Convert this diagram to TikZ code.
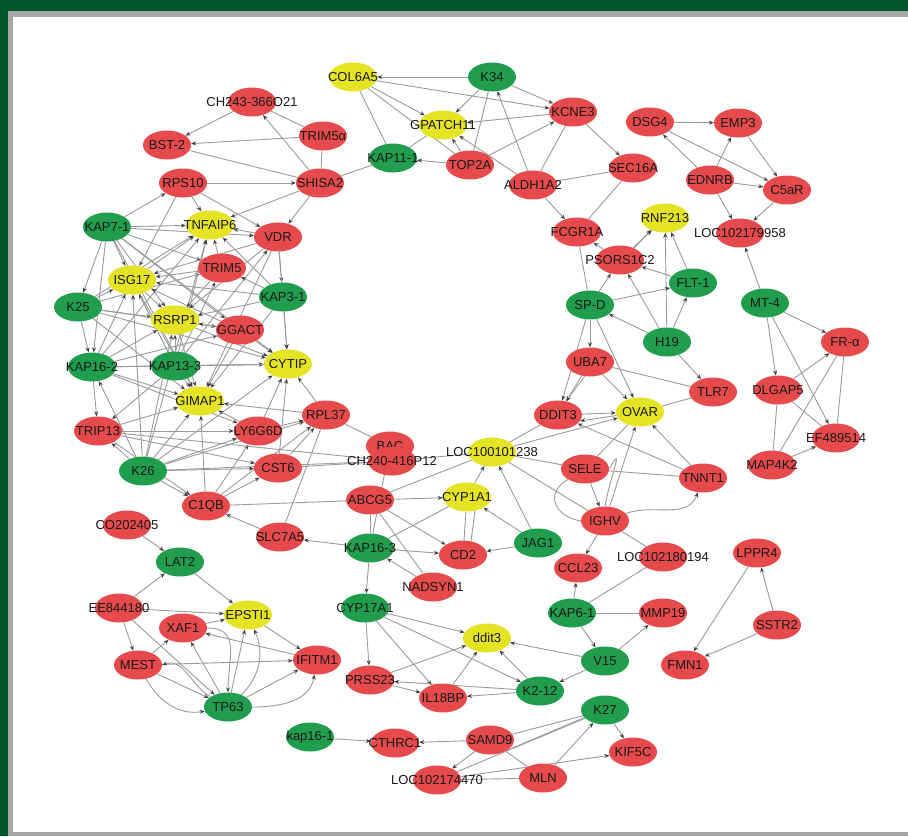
\documentclass[tikz,border=0pt]{standalone}
\usepackage{fontspec}
\setmainfont{Liberation Sans}
\usetikzlibrary{shapes.geometric,arrows.meta}
\definecolor{nred}{RGB}{231,74,76}
\definecolor{ngreen}{RGB}{32,158,78}
\definecolor{nyellow}{RGB}{228,228,36}
\definecolor{framegreen}{RGB}{0,88,40}
\definecolor{edgegray}{RGB}{155,155,155}
\definecolor{txt}{RGB}{25,25,25}
\pgfdeclarelayer{back}
\pgfdeclarelayer{edges}
\pgfsetlayers{back,edges,main}
\tikzset{
  base/.style={ellipse, minimum width=48, minimum height=29, inner sep=0,
    label={[font=\fontsize{13}{15}\selectfont, text=txt, inner sep=0]center:#1}},
  rn/.style={base=#1, fill=nred},
  gn/.style={base=#1, fill=ngreen},
  yn/.style={base=#1, fill=nyellow},
  ln/.style={draw=edgegray, line width=0.9pt},
  ar/.style={ln, -{Stealth[length=5pt,width=4pt,color=black!75]}},
}
\begin{document}
\begin{tikzpicture}[x=1pt,y=-1pt]
\useasboundingbox (0,0) rectangle (908,836);
\begin{pgfonlayer}{back}
\fill[framegreen] (0,0) rectangle (908,836);
\fill[black!35] (8,11) rectangle (908,836);
\fill[white] (13,17) rectangle (908,832);
\end{pgfonlayer}

% ---------------- nodes ----------------
\node[yn=COL6A5] (col6a5) at (353,77) {};
\node[gn=K34] (k34) at (492,77) {};
\node[rn=CH243-366O21] (ch243) at (252,102) {};
\node[rn=TRIM5α] (trim5a) at (323,136) {};
\node[rn=BST-2] (bst) at (167,145) {};
\node[rn=RPS10] (rps10) at (183,183) {};
\node[rn=SHISA2] (shisa2) at (320,183) {};
\node[yn=GPATCH11] (gpatch) at (443,125) {};
\node[gn=KAP11-1] (kap111) at (393,158) {};
\node[rn=TOP2A] (top2a) at (470,165) {};
\node[rn=ALDH1A2] (aldh) at (533,185) {};
\node[rn=KCNE3] (kcne3) at (573,112) {};
\node[rn=SEC16A] (sec16a) at (633,168) {};
\node[rn=FCGR1A] (fcgr) at (577,232) {};
\node[rn=DSG4] (dsg4) at (650,122) {};
\node[rn=EMP3] (emp3) at (738,123) {};
\node[rn=EDNRB] (ednrb) at (710,180) {};
\node[rn=C5aR] (c5ar) at (787,190) {};
\node[rn=LOC102179958] (loc958) at (740,233) {};
\node[yn=RNF213] (rnf) at (665,218) {};
\node[rn=PSORS1C2] (psors) at (620,260) {};
\node[gn=FLT-1] (flt) at (693,283) {};
\node[gn=SP-D] (spd) at (590,305) {};
\node[gn=H19] (h19) at (667,342) {};
\node[gn=MT-4] (mt4) at (765,303) {};
\node[rn=FR-α] (fra) at (845,342) {};
\node[rn=UBA7] (uba7) at (590,362) {};
\node[rn=TLR7] (tlr7) at (713,392) {};
\node[rn=DLGAP5] (dlgap) at (778,390) {};
\node[rn=DDIT3] (ddit3) at (558,415) {};
\node[yn=OVAR] (ovar) at (640,412) {};
\node[rn=EF489514] (ef) at (836,438) {};
\node[rn=MAP4K2] (map4k2) at (772,465) {};
\node[yn=LOC100101238] (loc238) at (492,452) {};
\node[rn=SELE] (sele) at (585,469) {};
\node[rn=TNNT1] (tnnt1) at (703,478) {};
\node[rn=IGHV] (ighv) at (605,521) {};
\node[rn=CCL23] (ccl23) at (578,568) {};
\node[rn=LOC102180194] (loc194) at (663,557) {};
\node[rn=LPPR4] (lppr4) at (757,553) {};
\node[rn=SSTR2] (sstr2) at (777,625) {};
\node[rn=FMN1] (fmn1) at (685,665) {};
\node[rn=MMP19] (mmp19) at (663,613) {};
\node[gn=KAP6-1] (kap61) at (572,613) {};
\node[gn=V15] (v15) at (605,661) {};
\node[gn=K27] (k27) at (605,710) {};
\node[rn=KIF5C] (kif5c) at (633,752) {};
\node[rn=MLN] (mln) at (543,778) {};
\node[rn=LOC102174470] (loc470) at (437,780) {};
\node[rn=SAMD9] (samd9) at (490,740) {};
\node[rn=CTHRC1] (cthrc1) at (395,743) {};
\node[gn=kap16-1] (kap161) at (310,737) {};
\node[gn=K2-12] (k212) at (540,691) {};
\node[rn=IL18BP] (il18bp) at (443,698) {};
\node[rn=PRSS23] (prss23) at (370,680) {};
\node[yn=ddit3] (ddit3s) at (487,638) {};
\node[gn=CYP17A1] (cyp17) at (365,608) {};
\node[rn=NADSYN1] (nadsyn) at (433,587) {};
\node[gn=KAP16-3] (kap163) at (370,548) {};
\node[rn=CD2] (cd2) at (463,555) {};
\node[gn=JAG1] (jag1) at (538,543) {};
\node[yn=CYP1A1] (cyp1a1) at (467,497) {};
\node[rn=ABCG5] (abcg5) at (370,500) {};
\node[rn=BAC] (bac) at (390,446) {};
\node[rn=CH240-416P12] (ch240) at (392,461) {};
\node[rn=SLC7A5] (slc7a5) at (280,537) {};
\node[rn=C1QB] (c1qb) at (206,506) {};
\node[rn=CO202405] (co2024) at (127,525) {};
\node[gn=LAT2] (lat2) at (180,562) {};
\node[rn=EE844180] (ee844) at (119,608) {};
\node[yn=EPSTI1] (epsti) at (248,615) {};
\node[rn=XAF1] (xaf1) at (183,628) {};
\node[rn=MEST] (mest) at (138,665) {};
\node[rn=IFITM1] (ifitm) at (317,660) {};
\node[gn=TP63] (tp63) at (228,707) {};
% left cluster
\node[gn=KAP7-1] (kap71) at (107,227) {};
\node[yn=TNFAIP6] (tnfaip) at (210,225) {};
\node[rn=VDR] (vdr) at (278,237) {};
\node[rn=TRIM5] (trim5) at (222,268) {};
\node[yn=ISG17] (isg17) at (132,280) {};
\node[gn=KAP3-1] (kap31) at (283,297) {};
\node[gn=K25] (k25) at (78,307) {};
\node[yn=RSRP1] (rsrp1) at (175,320) {};
\node[rn=GGACT] (ggact) at (240,330) {};
\node[gn=KAP16-2] (kap162) at (92,367) {};
\node[gn=KAP13-3] (kap133) at (175,366) {};
\node[yn=CYTIP] (cytip) at (288,364) {};
\node[yn=GIMAP1] (gimap) at (200,401) {};
\node[rn=TRIP13] (trip13) at (98,431) {};
\node[rn=LY6G6D] (ly6) at (258,431) {};
\node[rn=RPL37] (rpl37) at (326,415) {};
\node[rn=CST6] (cst6) at (278,468) {};
\node[gn=K26] (k26) at (143,471) {};

% ---------------- edges ----------------
\begin{pgfonlayer}{edges}
% top
\draw[ar] (k34) -- (col6a5);
\draw[ar] (col6a5) -- (gpatch);
\draw[ln] (col6a5) -- (kap111);
\draw[ln] (col6a5) -- (top2a);
\draw[ar] (col6a5) -- (kcne3);
\draw[ar] (k34) -- (gpatch);
\draw[ln] (k34) -- (top2a);
\draw[ar] (k34) -- (kcne3);
\draw[ar] (aldh) -- (k34);
\draw[ar] (kcne3) -- (gpatch);
\draw[ar] (top2a) -- (gpatch);
\draw[ar] (aldh) -- (gpatch);
\draw[ar] (top2a) -- (kap111);
\draw[ar] (top2a) -- (kcne3);
\draw[ln] (aldh) -- (kcne3);
\draw[ar] (kcne3) -- (sec16a);
\draw[ln] (aldh) -- (sec16a);
\draw[ar] (aldh) -- (fcgr);
\draw[ln] (sec16a) -- (fcgr);
\draw[ln] (kap111) -- (shisa2);
\draw[ln] (kap111) -- (gpatch);
\draw[ar] (shisa2) -- (ch243);
\draw[ar] (ch243) -- (bst);
\draw[ar] (trim5a) -- (bst);
\draw[ln] (trim5a) -- (shisa2);
\draw[ln] (ch243) -- (trim5a);
\draw[ln] (shisa2) -- (bst);
\draw[ar] (rps10) -- (shisa2);
\draw[ar] (shisa2) -- (tnfaip);
\draw[ar] (shisa2) -- (vdr);
\draw[ar] (kap71) -- (rps10);
\draw[ar] (rps10) -- (tnfaip);
\draw[ar] (rps10) -- (vdr);
\draw[ar] (rps10) -- (isg17);
% right
\draw[ar] (dsg4) -- (emp3);
\draw[ar] (ednrb) -- (dsg4);
\draw[ar] (ednrb) -- (emp3);
\draw[ar] (dsg4) -- (c5ar);
\draw[ar] (emp3) -- (c5ar);
\draw[ar] (ednrb) -- (c5ar);
\draw[ar] (ednrb) -- (loc958);
\draw[ar] (c5ar) -- (loc958);
\draw[ar] (mt4) -- (loc958);
\draw[ar] (mt4) -- (fra);
\draw[ar] (mt4) -- (dlgap);
\draw[ar] (mt4) -- (ef);
\draw[ar] (dlgap) -- (fra);
\draw[ln] (fra) -- (ef);
\draw[ln] (fra) -- (map4k2);
\draw[ln] (dlgap) -- (ef);
\draw[ln] (dlgap) -- (map4k2);
\draw[ar] (map4k2) -- (ef);
\draw[ar] (psors) -- (fcgr);
\draw[ar] (psors) -- (rnf);
\draw[ar] (psors.40) -- (rnf.220);
\draw[ar] (spd) -- (psors);
\draw[ln] (spd) -- (fcgr);
\draw[ar] (h19) -- (psors);
\draw[ar] (flt) -- (psors);
\draw[ar] (flt) -- (rnf);
\draw[ar] (h19) -- (rnf);
\draw[ar] (h19) -- (flt);
\draw[ar] (spd) -- (flt);
\draw[ar] (h19) -- (spd);
\draw[ar] (spd) -- (uba7);
\draw[ar] (spd) -- (ddit3);
\draw[ar] (spd) -- (ovar);
\draw[ar] (h19) -- (tlr7);
\draw[ar] (uba7) -- (ddit3);
\draw[ar] (uba7.250) -- (ddit3.60);
\draw[ar] (uba7) -- (ovar);
\draw[ln] (uba7) -- (tlr7);
\draw[ln] (tlr7) -- (ovar);
\draw[ar] (ddit3) -- (ovar);
\draw[ar] (ovar) -- (ddit3.345);
\draw[ln] (loc238) -- (ddit3);
\draw[ar] (loc238) -- (ovar);
\draw[ln] (loc238) -- (sele);
\draw[ln] (loc238) -- (ighv);
\draw[ln] (sele) -- (ovar);
\draw[ln] (sele) -- (tnnt1);
\draw[ar] (tnnt1) -- (ovar);
\draw[ar] (tnnt1) -- (ddit3);
\draw[ar] (ighv) -- (ovar);
\draw[ar] (sele) -- (ighv);
\draw[ar] (ighv) to[out=20,in=250] (tnnt1);
\draw[ln] (ighv.west) to[out=170,in=210,looseness=1.6] (sele.south west);
\draw[ln] (ighv.north) to[out=80,in=60,looseness=2.2] (sele.east);
\draw[ar] (ighv) -- (ccl23);
\draw[ln] (ighv) -- (loc194);
\draw[ar] (kap61) -- (ccl23);
\draw[ln] (kap61) -- (loc194);
\draw[ln] (kap61) -- (mmp19);
\draw[ar] (kap61) -- (v15);
\draw[ar] (v15) -- (mmp19);
\draw[ar] (v15) -- (ddit3s);
\draw[ar] (v15) -- (k212);
\draw[ar] (lppr4) -- (fmn1);
\draw[ar] (sstr2) -- (lppr4);
\draw[ar] (sstr2) -- (fmn1);
% center
\draw[ln] (loc238) -- (abcg5);
\draw[ar] (abcg5) -- (cyp1a1);
\draw[ar] (cyp1a1) -- (loc238);
\draw[ln] (cd2) -- (cyp1a1);
\draw[ln] (cd2.60) -- (cyp1a1.300);
\draw[ar] (jag1) -- (loc238);
\draw[ar] (jag1) -- (cyp1a1);
\draw[ar] (jag1) -- (cd2);
\draw[ar] (kap163) -- (cd2);
\draw[ar] (abcg5) -- (cd2);
\draw[ln] (abcg5) -- (kap163);
\draw[ar] (nadsyn) -- (kap163);
\draw[ln] (nadsyn) -- (abcg5);
\draw[ar] (kap163) -- (slc7a5);
\draw[ln] (kap163) -- (cyp1a1);
\draw[ar] (kap163) -- (cyp17);
\draw[ln] (bac) -- (rpl37);
\draw[ln] (bac) -- (kap163);
\draw[ln] (ch240) -- (cst6);
\draw[ln] (ch240) -- (k26);
\draw[ar] (slc7a5) -- (c1qb);
\draw[ln] (slc7a5) -- (rpl37);
\draw[ln] (abcg5) -- (c1qb);
\draw[ln] (loc238) -- (ch240);
% bottom left
\draw[ar] (co2024) -- (lat2);
\draw[ar] (ee844) -- (lat2);
\draw[ar] (lat2) -- (epsti);
\draw[ar] (ee844) -- (epsti);
\draw[ar] (ee844) -- (mest);
\draw[ar] (ee844) -- (tp63);
\draw[ar] (xaf1) -- (epsti);
\draw[ar] (mest) -- (xaf1);
\draw[ar] (mest) -- (ifitm);
\draw[ar] (mest) -- (tp63);
\draw[ar] (tp63) -- (xaf1);
\draw[ar] (tp63) -- (epsti);
\draw[ar] (tp63) -- (ifitm);
\draw[ar] (epsti) -- (ifitm);
\draw[ar] (ifitm) -- (xaf1);
\draw[ar] (tp63) to[bend right=35] (epsti);
\draw[ar] (tp63) to[out=0,in=260] (ifitm);
\draw[ar] (mest) to[out=300,in=190] (tp63);
\draw[ar] (xaf1) to[out=0,in=90,looseness=1.3] (tp63);
\draw[ar] (tp63) to[out=150,in=20] (mest.east);
% bottom centre
\draw[ar] (cyp17) -- (ddit3s);
\draw[ar] (cyp17) -- (prss23);
\draw[ar] (cyp17) -- (il18bp);
\draw[ar] (cyp17) -- (k212);
\draw[ar] (prss23) -- (ddit3s);
\draw[ar] (il18bp) -- (ddit3s);
\draw[ar] (k212) -- (ddit3s);
\draw[ar] (k212) -- (il18bp);
\draw[ar] (k212) -- (prss23);
\draw[ar] (prss23) -- (il18bp);
\draw[ar] (kap161) -- (cthrc1);
\draw[ar] (samd9) -- (cthrc1);
\draw[ln] (samd9) -- (k27);
\draw[ln] (samd9.330) -- (k27.200);
\draw[ar] (samd9) -- (loc470);
\draw[ln] (samd9) -- (mln);
\draw[ln] (mln) -- (loc470);
\draw[ar] (mln) -- (k27);
\draw[ar] (loc470) -- (kif5c);
\draw[ar] (k27) -- (kif5c);
\draw[ln] (k27) -- (loc470);
% left cluster
\foreach \s/\t in {kap71/tnfaip,kap71/isg17,kap71/k25,kap71/rsrp1,kap71/trim5,kap71/ggact,
  kap71/gimap,kap71/kap162,kap71/vdr,kap71/cytip,
  k25/isg17,k25/rsrp1,k25/ggact,k25/kap162,k25/tnfaip,k25/gimap,k25/cytip,k25/trim5,
  kap162/isg17,kap162/rsrp1,kap162/cytip,kap162/gimap,kap162/trip13,kap162/ly6,kap162/tnfaip,kap162/ggact,
  kap133/rsrp1,kap133/isg17,kap133/gimap,kap133/cytip,kap133/trip13,kap133/tnfaip,kap133/trim5,kap133/vdr,
  kap31/isg17,kap31/rsrp1,kap31/tnfaip,kap31/cytip,kap31/gimap,kap31/trim5,vdr/kap31,
  k26/trip13,k26/gimap,k26/cytip,k26/cst6,k26/c1qb,k26/rsrp1,k26/ly6,k26/isg17,k26/kap162,k26/tnfaip,k26/rpl37,
  trip13/ly6,trip13/cst6,trip13/c1qb,trip13/gimap,
  ggact/rsrp1,ggact/cytip,ggact/gimap,ggact/isg17,
  trim5/isg17,trim5/tnfaip,trim5/rsrp1,
  vdr/tnfaip,vdr/isg17,vdr/rsrp1,vdr/gimap,vdr/cytip,
  rpl37/cytip,rpl37/gimap,ly6/rpl37,cst6/rpl37,c1qb/rpl37,c1qb/cst6,cst6/cytip,ly6/cytip,ly6/gimap,
  c1qb/ly6,c1qb/gimap,isg17/rsrp1,isg17/tnfaip,isg17/gimap,rsrp1/gimap,rsrp1/cytip}
  \draw[ar] (\s) -- (\t);
\draw[ln] (kap162) -- (kap133);
\draw[ln] (kap133) -- (cytip);
\draw[ln] (trip13) -- (ch240);
\end{pgfonlayer}
\end{tikzpicture}
\end{document}
